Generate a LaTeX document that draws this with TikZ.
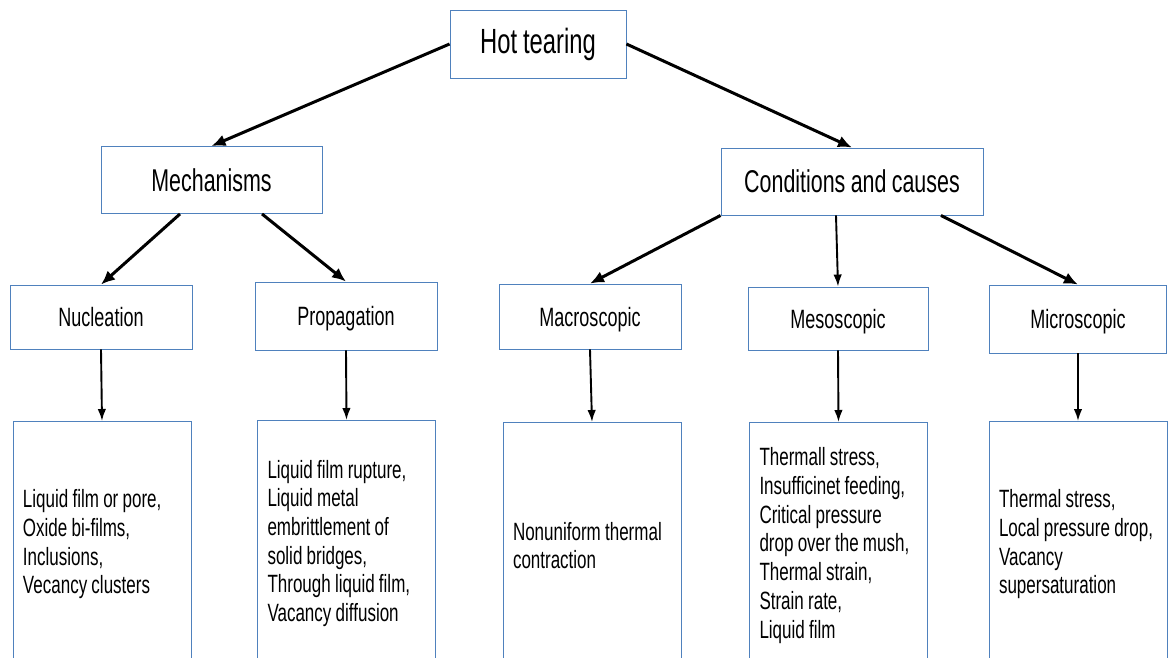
\documentclass[tikz,border=0pt]{standalone}
\usepackage{fontspec}
\setmainfont{Liberation Sans}[FakeStretch=0.68, WordSpace=0.9]
\usetikzlibrary{arrows.meta}
\definecolor{boxblue}{RGB}{79,129,189}

\begin{document}
\begin{tikzpicture}[x=1pt,y=-1pt,
  box/.style={draw=boxblue, line width=0.9pt, inner sep=0pt},
  head/.style={box, minimum width=176pt, minimum height=68pt, font=\fontsize{35}{40}\selectfont},
  group/.style={box, minimum height=67pt, font=\fontsize{31.5}{36}\selectfont},
  branch/.style={box, minimum width=182pt, minimum height=65pt, text height=19pt, text depth=0pt, font=\fontsize{26.5}{31}\selectfont},
  detail/.style={box, anchor=north, minimum height=246pt, text width=158pt, inner xsep=10pt, align=flush left, font=\fontsize{25}{28.7}\selectfont},
  link/.style={-{Latex[length=14pt,width=12pt]}, line width=3pt},
  down/.style={-{Latex[length=12pt,width=8.5pt]}, line width=1.9pt}]
\useasboundingbox (0,0) rectangle (1168,657);
\clip (0,0) rectangle (1168,657);

\node[head] (hot) at (538,44) {Hot tearing};
\node[group, minimum width=221pt] (mech) at (211.5,180) {Mechanisms};
\node[group, minimum width=262pt] (cond) at (852,181.5) {Conditions and causes};

\node[branch, minimum height=64pt] (nucl) at (101,317) {Nucleation};
\node[branch, minimum height=68pt] (prop) at (346,316) {Propagation};
\node[branch] (macro) at (590,316.5) {Macroscopic};
\node[branch, minimum width=180pt, minimum height=63pt] (meso) at (838,318.5) {Mesoscopic};
\node[branch, minimum width=177pt, minimum height=68pt] (micro) at (1078,319) {Microscopic};

\node[detail] (nucldet) at (102,421) {Liquid film or pore,\\Oxide bi-films,\\Inclusions,\\Vecancy clusters};
\node[detail] (propdet) at (346.5,420) {Liquid film rupture,\\Liquid metal\\embrittlement of\\solid bridges,\\Through liquid film,\\Vacancy diffusion};
\node[detail] (macrodet) at (592,422) {Nonuniform thermal\\contraction};
\node[detail] (mesodet) at (838.5,422) {Thermall stress,\\Insufficinet feeding,\\Critical pressure\\drop over the mush,\\Thermal strain,\\Strain rate,\\Liquid film};
\node[detail] (microdet) at (1078,421) {Thermal stress,\\Local pressure drop,\\Vacancy\\supersaturation};

\draw[link] (hot.west) -- (mech.north);
\draw[link] (hot.east) -- (cond.north);
\draw[link] ([xshift=-31.5pt]mech.south) -- (nucl.north);
\draw[link] ([xshift=50.5pt]mech.south) -- (prop.north);
\draw[link] (cond.south west) -- (macro.north);
\draw[down] ([xshift=-16pt]cond.south) -- (meso.north);
\draw[link] ([xshift=89pt]cond.south) -- (micro.north);
\foreach \a/\b in {nucl/nucldet, prop/propdet, macro/macrodet, meso/mesodet, micro/microdet}
  \draw[down] (\a.south) -- (\b.north);
\end{tikzpicture}
\end{document}
